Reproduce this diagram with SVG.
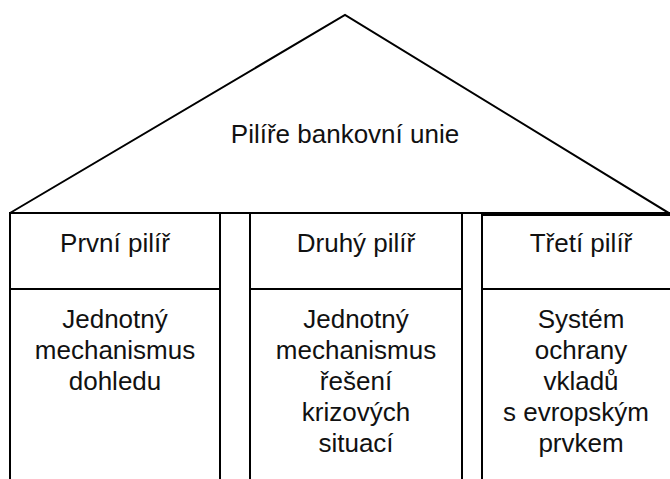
<svg xmlns="http://www.w3.org/2000/svg" width="670" height="479" viewBox="0 0 670 479">
<style>
.ln{fill:none;stroke:#000;stroke-width:2}
.bx{fill:#fff;stroke:#000;stroke-width:2}
.t{font-family:"Liberation Sans",Arial,sans-serif;font-size:26px;fill:#111;text-anchor:middle}
</style>
<rect x="0" y="0" width="670" height="479" fill="#fff"/>
<g id="roof">
<path class="ln" d="M10,213 L345,15 L672,215"/>
<line class="ln" x1="10" y1="213" x2="670" y2="213"/>
<text class="t" x="345" y="143">Pilíře bankovní unie</text>
</g>
<g id="pillar1">
<rect class="bx" x="10" y="213" width="210" height="280"/>
<line class="ln" x1="10" y1="289" x2="220" y2="289"/>
<text class="t" x="115" y="252">První pilíř</text>
<text class="t" x="115" y="328">Jednotný</text>
<text class="t" x="115" y="359">mechanismus</text>
<text class="t" x="115" y="390">dohledu</text>
</g>
<g id="gap1">
<rect class="bx" x="220" y="213" width="30" height="280"/>
</g>
<g id="pillar2">
<rect class="bx" x="250" y="213" width="212" height="280"/>
<line class="ln" x1="250" y1="289" x2="462" y2="289"/>
<text class="t" x="356" y="252">Druhý pilíř</text>
<text class="t" x="356" y="328">Jednotný</text>
<text class="t" x="356" y="359">mechanismus</text>
<text class="t" x="356" y="390">řešení</text>
<text class="t" x="356" y="421">krizových</text>
<text class="t" x="356" y="452">situací</text>
</g>
<g id="gap2">
<rect class="bx" x="462" y="213" width="20" height="280"/>
</g>
<g id="pillar3">
<rect class="bx" x="482" y="215" width="200" height="280"/>
<line class="ln" x1="482" y1="289" x2="682" y2="289"/>
<text class="t" x="581" y="252">Třetí pilíř</text>
<text class="t" x="581" y="328">Systém</text>
<text class="t" x="581" y="359">ochrany</text>
<text class="t" x="581" y="390">vkladů</text>
<text class="t" x="576" y="421">s evropským</text>
<text class="t" x="581" y="452">prvkem</text>
</g>
</svg>
